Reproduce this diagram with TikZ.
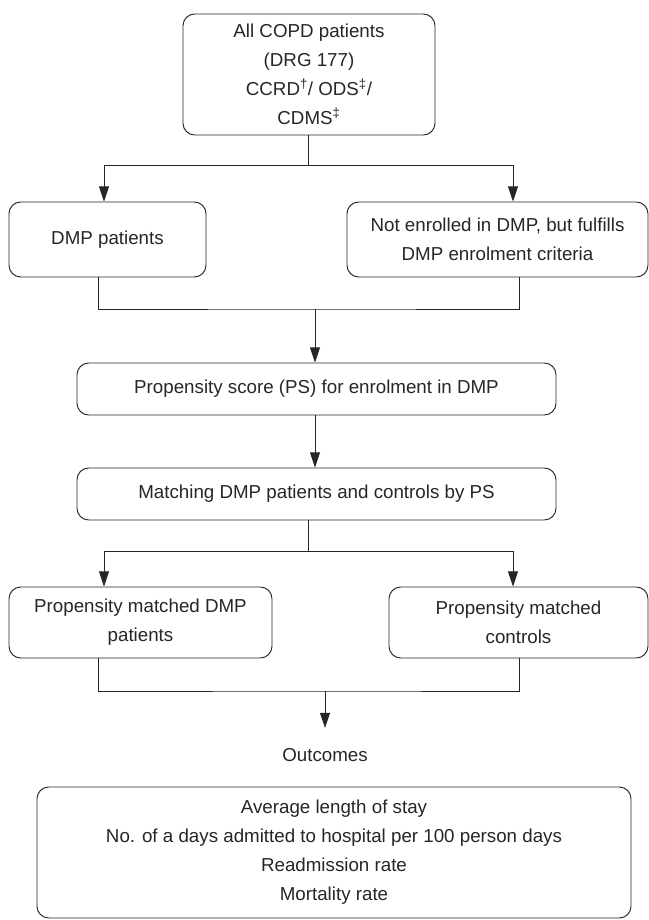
\documentclass[tikz,border=0pt]{standalone}
\usepackage{fontspec}
\setmainfont{Liberation Sans}
\usetikzlibrary{arrows.meta}

\begin{document}
\begin{tikzpicture}[x=0.03cm,y=-0.03cm,line width=0.8pt,
  box/.style 2 args={draw=black!85,rounded corners=10pt,align=center,inner sep=0pt,
    minimum width=#1*0.03cm,minimum height=#2*0.03cm,text=black!85,
    font=\fontsize{16}{24.7}\selectfont},
  plain/.style={text=black!85,font=\fontsize{16}{24.7}\selectfont},
  link/.style={draw=black!85},
  arr/.style={link,-{Triangle[width=8.5pt,length=13pt]}}]
\useasboundingbox (0,0) rectangle (649,920);
% ---- boxes ----
\node[box={252}{121}] (copd) at (309,74.5)
  {All COPD patients\\(DRG 177)\\CCRD\textsuperscript{\textdagger}/ ODS\textsuperscript{\textdaggerdbl}/\\CDMS\textsuperscript{\textdaggerdbl}};
\node[box={197}{75}] (dmp) at (107.5,239.5) {DMP patients};
\node[box={301}{75}] (nodmp) at (497.5,239.5) {Not enrolled in DMP, but fulfills\\DMP enrolment criteria};
\node[box={479}{52}] (ps) at (316.5,389) {Propensity score (PS) for enrolment in DMP};
\node[box={479}{52}] (match) at (316.5,494) {Matching DMP patients and controls by PS};
\node[box={263}{71}] (pmdmp) at (140.5,622.5) {Propensity matched DMP\\patients};
\node[box={259}{71}] (pmctl) at (518.5,622.5) {Propensity matched\\controls};
\node[plain] (outlabel) at (325,755) {Outcomes};
\node[box={594}{131}] (outbox) at (334,852.5)
  {Average length of stay\\No. of a days admitted to hospital per 100 person days\\Readmission rate\\Mortality rate};
% ---- split from all patients ----
\coordinate (j1) at (308,165);
\draw[link] (copd.south -| j1) -- (j1);
\draw[arr] (j1) -| (dmp.north -| 104,0);
\draw[arr] (j1) -| (nodmp.north -| 513,0);
% ---- join into propensity score ----
\coordinate (j2) at (315,309);
\draw[link] (dmp.south -| 98,0) |- (j2) -| (nodmp.south -| 519,0);
\draw[arr] (j2) -- (ps.north -| j2);
\draw[arr] (ps.south -| j2) -- (match.north -| j2);
% ---- split after matching ----
\coordinate (j3) at (308,551);
\draw[link] (match.south -| j3) -- (j3);
\draw[arr] (j3) -| (pmdmp.north -| 104,0);
\draw[arr] (j3) -| (pmctl.north -| 513,0);
% ---- join into outcomes ----
\coordinate (j4) at (325,691);
\coordinate (tip) at (325,728);
\draw[link] (pmdmp.south -| 98,0) |- (j4) -| (pmctl.south -| 519,0);
\draw[arr] (j4) -- (tip);
\end{tikzpicture}
\end{document}
